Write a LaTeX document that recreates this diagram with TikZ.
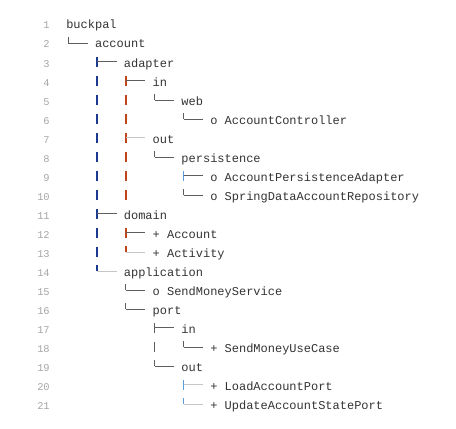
\documentclass[tikz,border=0pt]{standalone}
\usepackage{fontspec}
\setmonofont{Liberation Mono}
\usepackage{xcolor}
\usetikzlibrary{calc}

\definecolor{numgray}{HTML}{A6A6A6}
\definecolor{txtgray}{HTML}{333333}
\definecolor{navy}{HTML}{1A3A90}
\definecolor{rust}{HTML}{C0441A}
\definecolor{skyblue}{HTML}{5A9CDE}
\definecolor{lightline}{HTML}{C6C6C6}
\definecolor{darkline}{HTML}{5E5E5E}

% tree glyphs, placed from the line number node
\newcommand{\pipe}[3]{\draw[glyph,#3] ($(n#1.base east)+({18.3+28.8*#2},-10)$) -- ++(0,10);}
\newcommand{\tee}[4]{%
  \draw[glyph,#3] ($(n#1.base east)+({18.3+28.8*#2},-10)$) -- ++(0,10);
  \draw[glyph,#4] ($(n#1.base east)+({18.3+28.8*#2},-5.5)$) -- ++(19.5,0);}
\newcommand{\corner}[4]{%
  \draw[glyph,#3] ($(n#1.base east)+({18.3+28.8*#2},-11)$) -- ++(0,6);
  \draw[glyph,#4] ($(n#1.base east)+({18.3+28.8*#2},-5)$) -- ++(19.5,0);}

\begin{document}
\begin{tikzpicture}[x=0.75pt,y=-0.75pt,
    num/.style={anchor=base east, inner sep=0pt, text=numgray, font=\ttfamily\fontsize{7.8pt}{9pt}\selectfont},
    txt/.style={anchor=base west, inner sep=0pt, text=txtgray, font=\ttfamily\fontsize{9pt}{11pt}\selectfont},
    glyph/.style={line width=0.7pt, draw=darkline},
    hue/.style={line width=1pt, draw=#1}]

\useasboundingbox (0,0) rectangle (456,428);

\foreach \n in {1,...,21}
  \node [num] (n\n) at (50,{10+19*\n}) {\n};

\node [txt] (t1) at (66,29) {buckpal};
\node [txt] (t2) at (94.8,48) {account};
\node [txt] (t3) at (123.6,67) {adapter};
\node [txt] (t4) at (152.4,86) {in};
\node [txt] (t5) at (181.2,105) {web};
\node [txt] (t6) at (210,124) {o AccountController};
\node [txt] (t7) at (152.4,143) {out};
\node [txt] (t8) at (181.2,162) {persistence};
\node [txt] (t9) at (210,181) {o AccountPersistenceAdapter};
\node [txt] (t10) at (210,200) {o SpringDataAccountRepository};
\node [txt] (t11) at (123.6,219) {domain};
\node [txt] (t12) at (152.4,238) {+ Account};
\node [txt] (t13) at (152.4,257) {+ Activity};
\node [txt] (t14) at (123.6,276) {application};
\node [txt] (t15) at (152.4,295) {o SendMoneyService};
\node [txt] (t16) at (152.4,314) {port};
\node [txt] (t17) at (181.2,333) {in};
\node [txt] (t18) at (210,352) {+ SendMoneyUseCase};
\node [txt] (t19) at (181.2,371) {out};
\node [txt] (t20) at (210,390) {+ LoadAccountPort};
\node [txt] (t21) at (210,409) {+ UpdateAccountStatePort};

\corner{2}{0}{}{}
\tee{3}{1}{hue=navy}{}
\pipe{4}{1}{hue=navy} \tee{4}{2}{hue=rust}{}
\pipe{5}{1}{hue=navy} \pipe{5}{2}{hue=rust} \corner{5}{3}{}{}
\pipe{6}{1}{hue=navy} \pipe{6}{2}{hue=rust} \corner{6}{4}{}{}
\pipe{7}{1}{hue=navy} \tee{7}{2}{hue=rust}{draw=lightline}
\pipe{8}{1}{hue=navy} \pipe{8}{2}{hue=rust} \corner{8}{3}{}{}
\pipe{9}{1}{hue=navy} \pipe{9}{2}{hue=rust} \tee{9}{4}{hue=skyblue}{}
\pipe{10}{1}{hue=navy} \pipe{10}{2}{hue=rust} \corner{10}{4}{}{}
\tee{11}{1}{hue=navy}{}
\pipe{12}{1}{hue=navy} \tee{12}{2}{hue=rust}{}
\pipe{13}{1}{hue=navy} \corner{13}{2}{hue=rust}{draw=lightline}
\corner{14}{1}{hue=navy}{draw=lightline}
\corner{15}{2}{}{}
\corner{16}{2}{}{}
\tee{17}{3}{}{}
\pipe{18}{3}{} \corner{18}{4}{}{}
\corner{19}{3}{}{}
\tee{20}{4}{hue=skyblue}{draw=lightline}
\corner{21}{4}{hue=skyblue}{draw=lightline}
\end{tikzpicture}
\end{document}
